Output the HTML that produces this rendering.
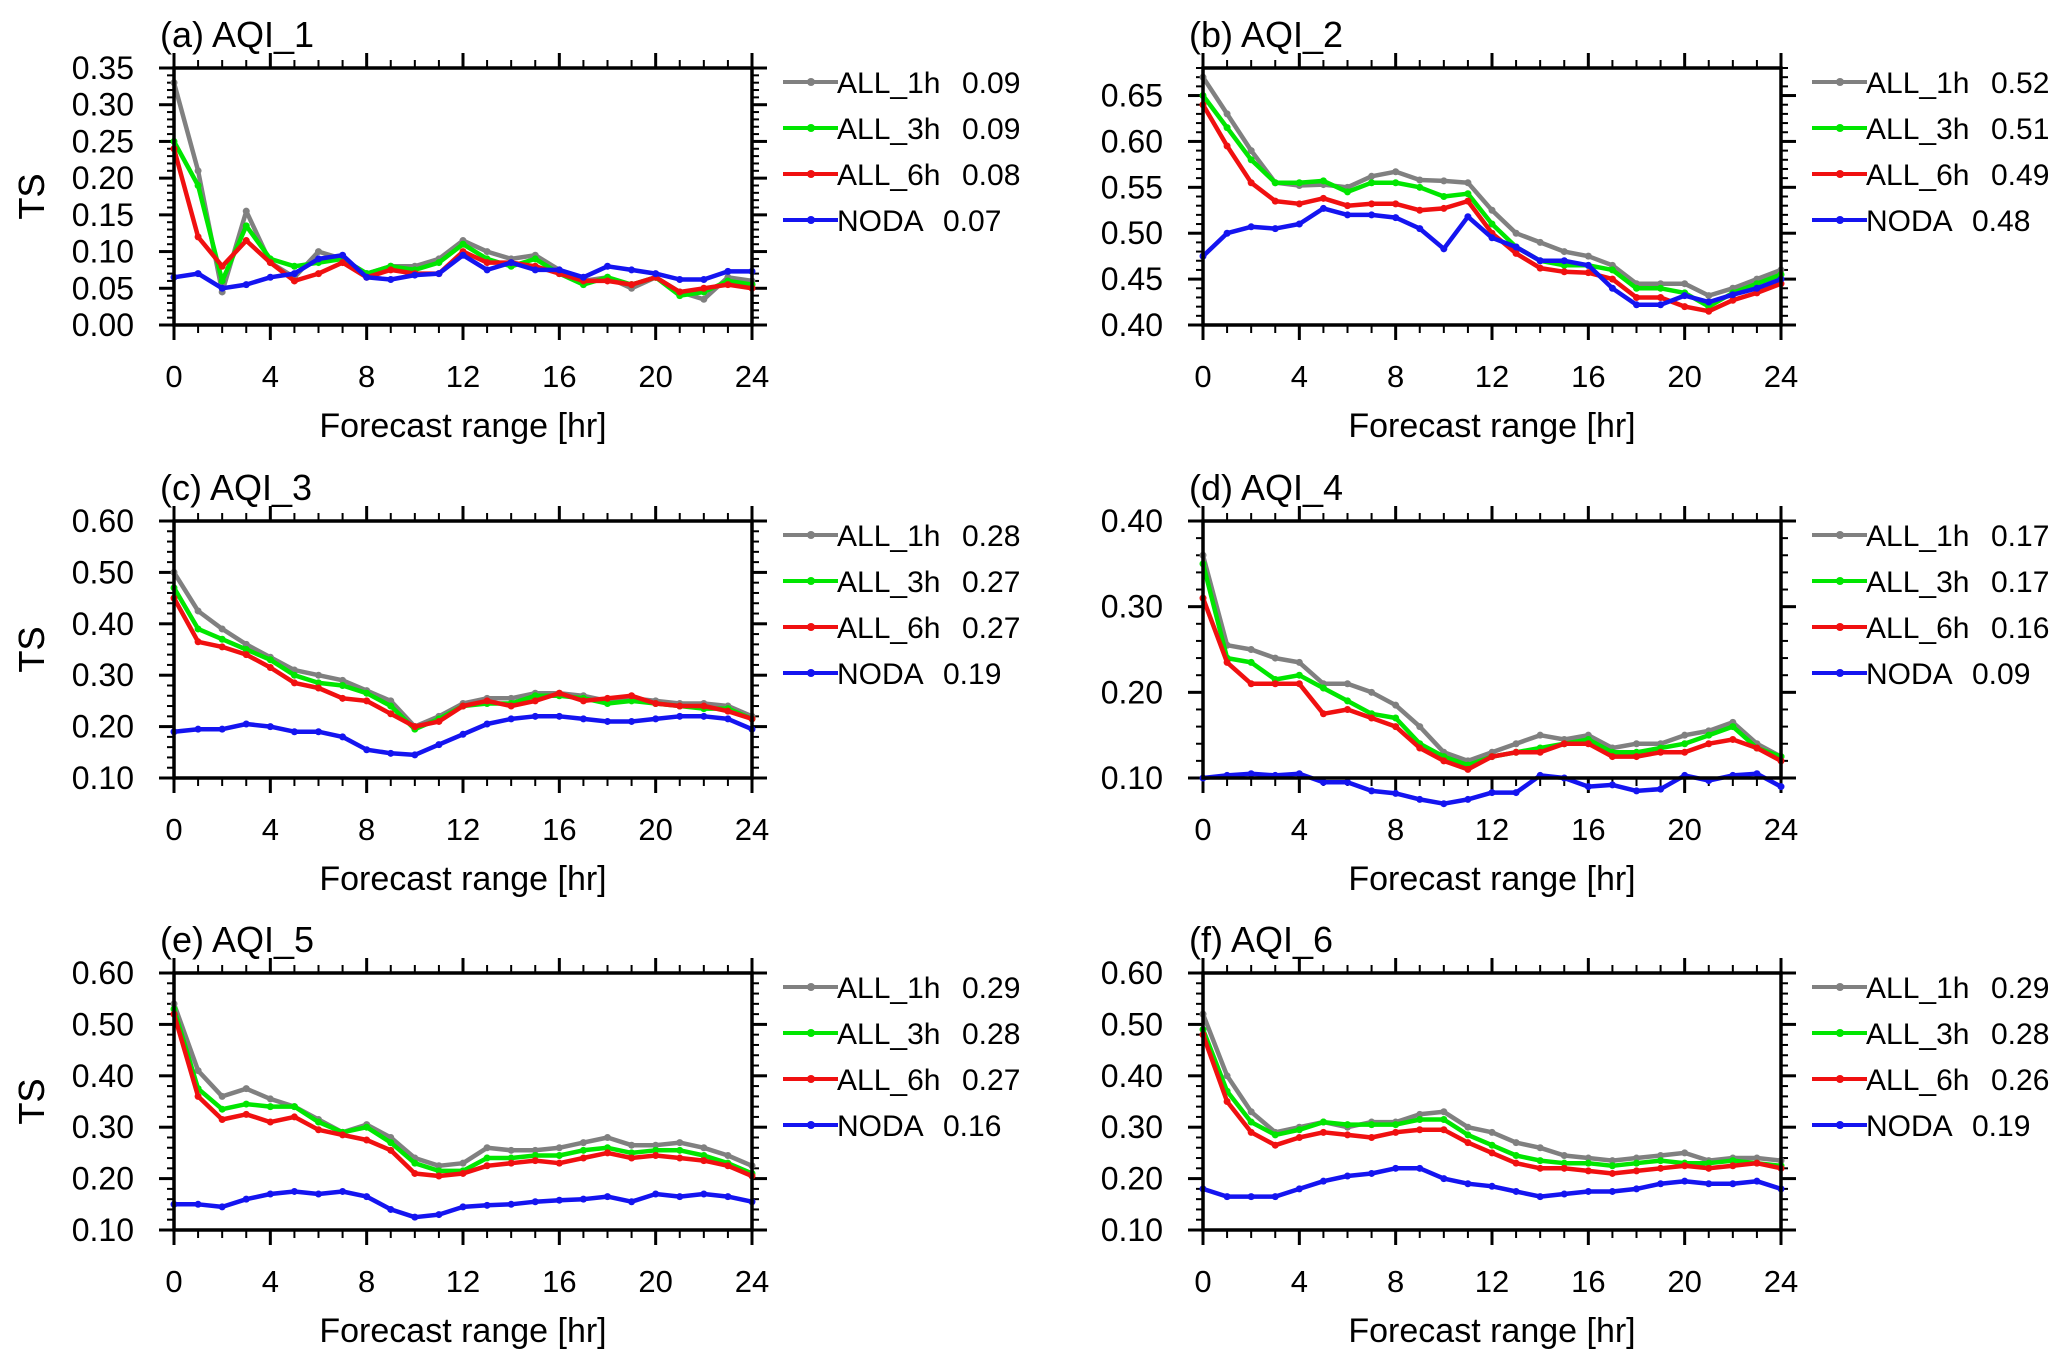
<!DOCTYPE html>
<html><head><meta charset="utf-8"><style>
html,body{margin:0;padding:0;background:#fff;}
svg{display:block;font-family:"Liberation Sans",Arial,sans-serif;}
</style></head><body>
<svg id="fig" width="2067" height="1368" viewBox="0 0 2067 1368" xmlns="http://www.w3.org/2000/svg"></svg>
<script>
const hours = [0,1,2,3,4,5,6,7,8,9,10,11,12,13,14,15,16,17,18,19,20,21,22,23,24];
const xTicks = [0,4,8,12,16,20,24];
const seriesNames = ["ALL_1h","ALL_3h","ALL_6h","NODA"];
const seriesColors = ["#808080","#00e600","#f01010","#1414f0"];
const panelTitles = ["(a) AQI_1","(b) AQI_2","(c) AQI_3","(d) AQI_4","(e) AQI_5","(f) AQI_6"];
const yRanges = [[0,0.35],[0.40,0.68],[0.10,0.60],[0.10,0.40],[0.10,0.60],[0.10,0.60]];
const yMajor = [0.05,0.05,0.10,0.10,0.10,0.10];
const yMinor = [0.01,0.01,0.02,0.02,0.02,0.02];
const yTickLabelsA = ["0.00","0.05","0.10","0.15","0.20","0.25","0.30","0.35"];
const yTickLabelsB = ["0.40","0.45","0.50","0.55","0.60","0.65"];
const yTickLabelsC = ["0.10","0.20","0.30","0.40","0.50","0.60"];
const yTickLabelsD = ["0.10","0.20","0.30","0.40"];
const yTickLabelsE = ["0.10","0.20","0.30","0.40","0.50","0.60"];
const yTickLabelsF = ["0.10","0.20","0.30","0.40","0.50","0.60"];
const legendValsA = ["0.09","0.09","0.08","0.07"];
const legendValsB = ["0.52","0.51","0.49","0.48"];
const legendValsC = ["0.28","0.27","0.27","0.19"];
const legendValsD = ["0.17","0.17","0.16","0.09"];
const legendValsE = ["0.29","0.28","0.27","0.16"];
const legendValsF = ["0.29","0.28","0.26","0.19"];

const a1h = [0.33,0.21,0.045,0.155,0.085,0.065,0.10,0.09,0.07,0.08,0.08,0.09,0.115,0.10,0.09,0.095,0.075,0.06,0.065,0.05,0.065,0.045,0.035,0.065,0.06];
const a3h = [0.25,0.19,0.06,0.135,0.09,0.08,0.085,0.09,0.07,0.08,0.075,0.085,0.11,0.09,0.08,0.09,0.07,0.055,0.065,0.055,0.065,0.04,0.045,0.06,0.055];
const a6h = [0.24,0.12,0.08,0.115,0.085,0.06,0.07,0.085,0.065,0.075,0.07,0.07,0.10,0.085,0.085,0.08,0.07,0.06,0.06,0.055,0.065,0.045,0.05,0.055,0.05];
const aNo = [0.065,0.07,0.05,0.055,0.065,0.07,0.09,0.095,0.065,0.062,0.068,0.07,0.095,0.075,0.085,0.075,0.075,0.065,0.08,0.075,0.07,0.062,0.062,0.073,0.073];
const b1h = [0.67,0.63,0.59,0.555,0.552,0.553,0.55,0.562,0.567,0.558,0.557,0.555,0.525,0.50,0.49,0.48,0.475,0.465,0.445,0.445,0.445,0.432,0.44,0.45,0.46];
const b3h = [0.65,0.615,0.58,0.555,0.555,0.557,0.545,0.555,0.555,0.55,0.54,0.543,0.51,0.485,0.47,0.465,0.465,0.46,0.44,0.44,0.435,0.42,0.435,0.445,0.455];
const b6h = [0.64,0.595,0.555,0.535,0.532,0.538,0.53,0.532,0.532,0.525,0.527,0.535,0.50,0.478,0.462,0.458,0.457,0.45,0.43,0.43,0.42,0.415,0.427,0.435,0.445];
const bNo = [0.475,0.50,0.507,0.505,0.51,0.527,0.52,0.52,0.517,0.505,0.483,0.518,0.495,0.485,0.47,0.47,0.465,0.44,0.422,0.422,0.432,0.425,0.433,0.44,0.45];
const c1h = [0.50,0.425,0.39,0.36,0.335,0.31,0.30,0.29,0.27,0.25,0.20,0.22,0.245,0.255,0.255,0.265,0.265,0.26,0.25,0.255,0.25,0.245,0.245,0.24,0.22];
const c3h = [0.47,0.39,0.37,0.35,0.33,0.30,0.285,0.28,0.265,0.24,0.195,0.215,0.24,0.245,0.245,0.26,0.26,0.255,0.245,0.25,0.245,0.24,0.235,0.235,0.215];
const c6h = [0.45,0.365,0.355,0.34,0.315,0.285,0.275,0.255,0.25,0.225,0.20,0.21,0.24,0.25,0.24,0.25,0.265,0.25,0.255,0.26,0.245,0.24,0.24,0.23,0.215];
const cNo = [0.19,0.195,0.195,0.205,0.20,0.19,0.19,0.18,0.155,0.148,0.145,0.165,0.185,0.205,0.215,0.22,0.22,0.215,0.21,0.21,0.215,0.22,0.22,0.215,0.195];
const d1h = [0.36,0.255,0.25,0.24,0.235,0.21,0.21,0.20,0.185,0.16,0.13,0.12,0.13,0.14,0.15,0.145,0.15,0.135,0.14,0.14,0.15,0.155,0.165,0.14,0.125];
const d3h = [0.35,0.24,0.235,0.215,0.22,0.205,0.19,0.175,0.17,0.14,0.125,0.115,0.125,0.13,0.135,0.14,0.145,0.13,0.13,0.135,0.14,0.15,0.16,0.135,0.125];
const d6h = [0.31,0.235,0.21,0.21,0.21,0.175,0.18,0.17,0.16,0.135,0.12,0.11,0.125,0.13,0.13,0.14,0.14,0.125,0.125,0.13,0.13,0.14,0.145,0.135,0.12];
const dNo = [0.10,0.103,0.105,0.103,0.105,0.095,0.095,0.085,0.082,0.075,0.07,0.075,0.083,0.083,0.103,0.10,0.09,0.092,0.085,0.087,0.103,0.097,0.103,0.105,0.09];
const e1h = [0.54,0.41,0.36,0.375,0.355,0.34,0.315,0.29,0.305,0.28,0.24,0.225,0.23,0.26,0.255,0.255,0.26,0.27,0.28,0.265,0.265,0.27,0.26,0.245,0.225];
const e3h = [0.53,0.375,0.335,0.345,0.34,0.34,0.31,0.29,0.30,0.27,0.23,0.215,0.215,0.24,0.24,0.245,0.245,0.255,0.26,0.25,0.255,0.255,0.245,0.23,0.21];
const e6h = [0.52,0.36,0.315,0.325,0.31,0.32,0.295,0.285,0.275,0.255,0.21,0.205,0.21,0.225,0.23,0.235,0.23,0.24,0.25,0.24,0.245,0.24,0.235,0.225,0.205];
const eNo = [0.15,0.15,0.145,0.16,0.17,0.175,0.17,0.175,0.165,0.14,0.125,0.13,0.145,0.148,0.15,0.155,0.158,0.16,0.165,0.155,0.17,0.165,0.17,0.165,0.155];
const f1h = [0.52,0.40,0.33,0.29,0.30,0.31,0.30,0.31,0.31,0.325,0.33,0.30,0.29,0.27,0.26,0.245,0.24,0.235,0.24,0.245,0.25,0.235,0.24,0.24,0.235];
const f3h = [0.49,0.37,0.31,0.285,0.295,0.31,0.305,0.305,0.305,0.315,0.315,0.285,0.265,0.245,0.235,0.23,0.23,0.225,0.23,0.235,0.23,0.23,0.235,0.23,0.225];
const f6h = [0.48,0.35,0.29,0.265,0.28,0.29,0.285,0.28,0.29,0.295,0.295,0.27,0.25,0.23,0.22,0.22,0.215,0.21,0.215,0.22,0.225,0.22,0.225,0.23,0.22];
const fNo = [0.18,0.165,0.165,0.165,0.18,0.195,0.205,0.21,0.22,0.22,0.20,0.19,0.185,0.175,0.165,0.17,0.175,0.175,0.18,0.19,0.195,0.19,0.19,0.195,0.18];

const panelSeries = [[a1h,a3h,a6h,aNo],[b1h,b3h,b6h,bNo],[c1h,c3h,c6h,cNo],[d1h,d3h,d6h,dNo],[e1h,e3h,e6h,eNo],[f1h,f3h,f6h,fNo]];
const panelTickLabels = [yTickLabelsA,yTickLabelsB,yTickLabelsC,yTickLabelsD,yTickLabelsE,yTickLabelsF];
const panelLegendVals = [legendValsA,legendValsB,legendValsC,legendValsD,legendValsE,legendValsF];

const NS = "http://www.w3.org/2000/svg";
const svg = document.getElementById('fig');
function mk(tag, attrs, parent){
  const e = document.createElementNS(NS, tag);
  for (const k in attrs) e.setAttribute(k, attrs[k]);
  (parent||svg).appendChild(e);
  return e;
}
const W = 578, H = 257;
const lefts = [174, 1203];
const tops = [68, 521, 973];

for (let p = 0; p < 6; p++) {
  const L = lefts[p % 2], T = tops[Math.floor(p / 2)], R = L + W, B = T + H;
  const [y0, y1] = yRanges[p];
  const xs = h => L + (h / 24) * W;
  const ys = v => B - (v - y0) / (y1 - y0) * H;
  const g = mk('g', {});
  
  

  const title = mk('text', {x: L - 14, y: T - 21, 'font-size': 36, fill: '#000'}, g);
  title.textContent = panelTitles[p];
  
  

  const yt = mk('text', {x: 0, y: 0, 'font-size': 36, 'text-anchor': 'middle', transform: `translate(44,${(T + B) / 2}) rotate(-90)`}, g);
  yt.textContent = 'TS';
  
  

  const xt = mk('text', {x: (L + R) / 2, y: B + 112, 'font-size': 34, 'text-anchor': 'middle'}, g);
  xt.textContent = 'Forecast range [hr]';
  
  

  for (const h of hours) {
    const major = xTicks.includes(h);
    const len = major ? 15 : 8;
    mk('line', {x1: xs(h), x2: xs(h), y1: B, y2: B + len, stroke: '#000', 'stroke-width': major ? 3 : 2}, g);
    mk('line', {x1: xs(h), x2: xs(h), y1: T, y2: T - len, stroke: '#000', 'stroke-width': major ? 3 : 2}, g);
  }
  for (const h of xTicks) {
    const t = mk('text', {x: xs(h), y: B + 62, 'font-size': 31, 'text-anchor': 'middle'}, g);
    t.textContent = String(h);
    
    
  }
  const nMinor = Math.round((y1 - y0) / yMinor[p]);
  const ratio = Math.round(yMajor[p] / yMinor[p]);
  for (let i = 0; i <= nMinor; i++) {
    const v = y0 + i * yMinor[p];
    const major = i % ratio === 0;
    const len = major ? 15 : 7;
    mk('line', {x1: L, x2: L - len, y1: ys(v), y2: ys(v), stroke: '#000', 'stroke-width': major ? 3 : 2}, g);
    mk('line', {x1: R, x2: R + len, y1: ys(v), y2: ys(v), stroke: '#000', 'stroke-width': major ? 3 : 2}, g);
  }
  panelTickLabels[p].forEach(lbl => {
    const v = parseFloat(lbl);
    const t = mk('text', {x: L - 40, y: ys(v) + 11, 'font-size': 32, 'text-anchor': 'end'}, g);
    t.textContent = lbl;
    
    
  });

  for (let s = 0; s < 4; s++) {
    const vals = panelSeries[p][s];
    const pts = vals.map((v, i) => xs(hours[i]).toFixed(1) + ',' + ys(v).toFixed(1)).join(' ');
    const line = mk('polyline', {points: pts, fill: 'none', stroke: seriesColors[s], 'stroke-width': 4.5, 'stroke-linejoin': 'round'}, g);
    
    
    vals.forEach((v, i) => {
      const m = mk('circle', {cx: xs(hours[i]), cy: ys(v), r: 3.5, fill: seriesColors[s]}, g);
      
      
    });
  }

  const fr = mk('rect', {x: L, y: T, width: W, height: H, fill: 'none', stroke: '#000', 'stroke-width': 3.5}, g);
  
  

  for (let s = 0; s < 4; s++) {
    const ly = T + 14 + s * 46;
    const lg = mk('g', {}, g);
    
    
    mk('line', {x1: L + 609, x2: L + 664, y1: ly, y2: ly, stroke: seriesColors[s], 'stroke-width': 4}, lg);
    mk('circle', {cx: L + 637, cy: ly, r: 4, fill: seriesColors[s]}, lg);
    const t = mk('text', {x: L + 663, y: ly + 11, 'font-size': 30}, lg);
    t.textContent = seriesNames[s];
    const tv = mk('text', {x: L + (s === 3 ? 769 : 788), y: ly + 11, 'font-size': 30}, lg);
    tv.textContent = panelLegendVals[p][s];
  }
}
</script>
</body></html>
